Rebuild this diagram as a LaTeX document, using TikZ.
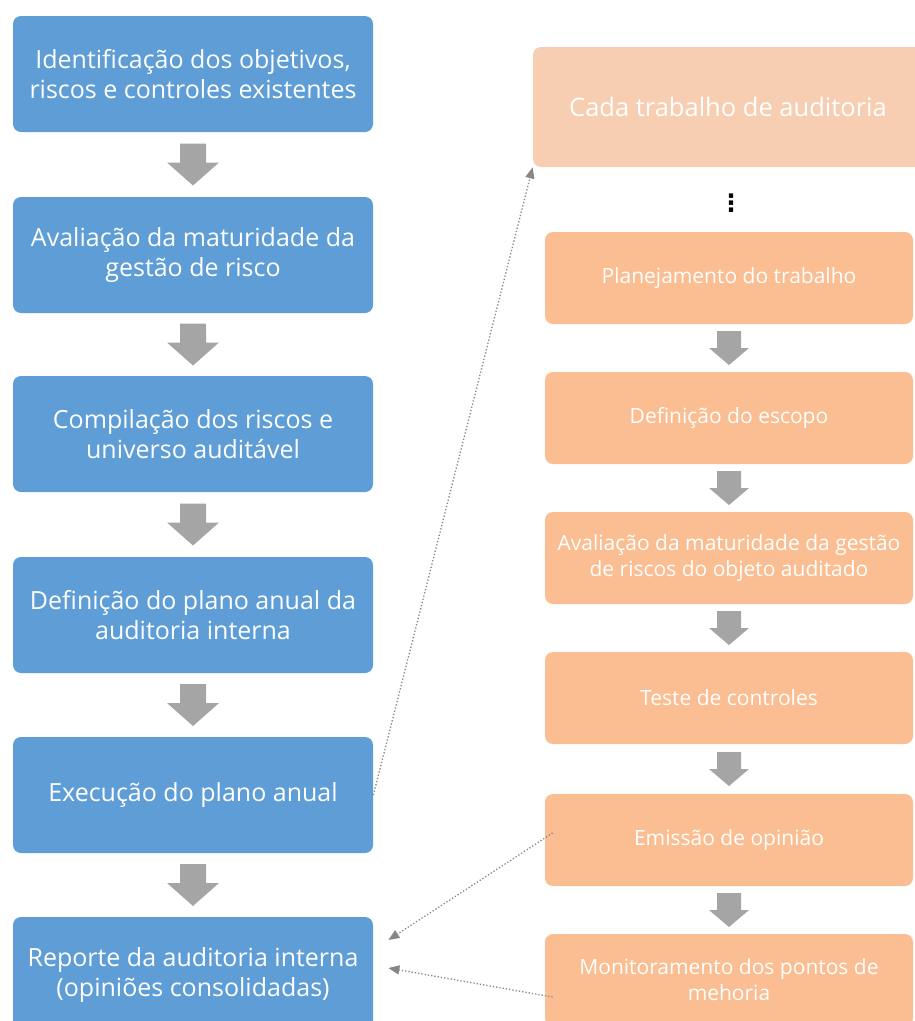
\documentclass[tikz,border=0pt]{standalone}
\usepackage{fontspec}
\setmainfont{Open Sans}
\newfontfamily\dotsfont{DejaVu Sans}
\usetikzlibrary{arrows.meta,calc}
\definecolor{boxblue}{RGB}{94,157,214}
\definecolor{boxorange}{RGB}{250,190,146}
\definecolor{boxpeach}{RGB}{248,206,178}
\definecolor{arrowgray}{RGB}{165,165,165}
\definecolor{linkgray}{RGB}{135,135,135}
\tikzset{every picture/.style={line width=0.75pt}}
\tikzset{
  leftbox/.style={rounded corners=8pt, fill=boxblue, text=white, align=center,
    minimum width=360, minimum height=116, font=\fontsize{25}{30}\selectfont},
  rightbox/.style={rounded corners=8pt, fill=boxorange, text=white, align=center,
    minimum width=368, minimum height=92, font=\fontsize{21}{26}\selectfont},
  headbox/.style={rounded corners=8pt, fill=boxpeach, text=white, align=center,
    minimum width=390, minimum height=120, font=\fontsize{25.5}{30}\selectfont},
  link/.style={linkgray, line width=1.3pt, dotted, -{Triangle[length=11pt,width=9pt]}},
  bigarrow/.pic={\fill[arrowgray] (-13,21) -- (13,21) -- (13,2) -- (26,2) -- (0,-21) -- (-26,2) -- (-13,2) -- cycle;},
  smallarrow/.pic={\fill[arrowgray] (-12,17) -- (12,17) -- (12,0) -- (20,0) -- (0,-17) -- (-20,0) -- (-12,0) -- cycle;}
}

\begin{document}
\begin{tikzpicture}[x=1pt,y=1pt,yscale=-1,xscale=1]
	\useasboundingbox (0,0) rectangle (915,1021);
	
	% left column
	\node [leftbox] (ident) at (193,74) {Identificação dos objetivos,\\riscos e controles existentes};
	\node [leftbox] (maturidade) at (193,255) {Avaliação da maturidade da\\gestão de risco};
	\node [leftbox] (compilacao) at (193,434) {Compilação dos riscos e\\universo auditável};
	\node [leftbox] (plano) at (193,615) {Definição do plano anual da\\auditoria interna};
	\node [leftbox] (execucao) at (193,795) {Execução do plano anual};
	\node [leftbox] (reporte) at (193,975) {Reporte da auditoria interna\\(opiniões consolidadas)};
	
	% right column
	\node [headbox] (cada) at (728,107) {Cada trabalho de auditoria};
	\node [font=\dotsfont\bfseries\fontsize{24}{24}\selectfont] (dots) at (731,203) {⋮};
	\node [rightbox] (planejamento) at (729,278) {Planejamento do trabalho};
	\node [rightbox] (escopo) at (729,418) {Definição do escopo};
	\node [rightbox] (avaliacao) at (729,558) {Avaliação da maturidade da gestão\\de riscos do objeto auditado};
	\node [rightbox] (teste) at (729,698) {Teste de controles};
	\node [rightbox] (emissao) at (729,840) {Emissão de opinião};
	\node [rightbox] (monitoramento) at (729,980) {Monitoramento dos pontos de\\mehoria};
	
	% block arrows between the steps
	\foreach \a/\b in {ident/maturidade,maturidade/compilacao,compilacao/plano,plano/execucao,execucao/reporte}
		\path ($(\a.south)!0.5!(\b.north)$) pic {bigarrow};
	\foreach \a/\b in {planejamento/escopo,escopo/avaliacao,avaliacao/teste,teste/emissao,emissao/monitoramento}
		\path ($(\a.south)!0.5!(\b.north)$) pic {smallarrow};
	
	% dotted links
	\draw [link] (execucao.east) -- (cada.south west);
	\draw [link] ($(emissao.west)+(8,-7)$) -- ($(reporte.east)+(15,-35)$);
	\draw [link] ($(monitoramento.west)+(8,17)$) -- ($(reporte.east)+(15,-7)$);
\end{tikzpicture}
\end{document}
